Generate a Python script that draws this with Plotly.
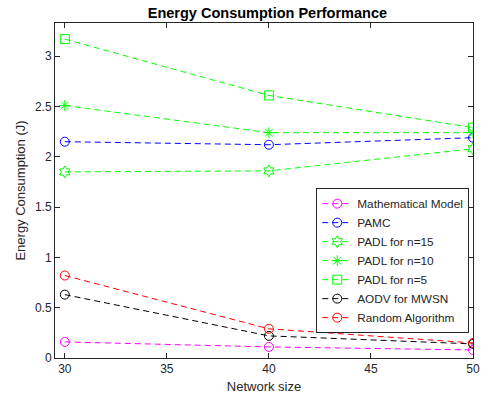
import plotly.graph_objects as go

network_size = [30, 40, 50]
math_model = [0.16, 0.11, 0.08]
pamc = [2.15, 2.12, 2.19]
padl_n15 = [1.85, 1.86, 2.08]
padl_n10 = [2.51, 2.24, 2.24]
padl_n5 = [3.17, 2.61, 2.29]
aodv = [0.63, 0.22, 0.14]
random_alg = [0.82, 0.29, 0.15]

series = [
    ("Mathematical Model", math_model, "#FF00FF", "circle-open"),
    ("PAMC", pamc, "#0000FF", "circle-open"),
    ("PADL for n=15", padl_n15, "#00FF00", "hexagram-open"),
    ("PADL for n=10", padl_n10, "#00FF00", "asterisk-open"),
    ("PADL for n=5", padl_n5, "#00FF00", "square-open"),
    ("AODV for MWSN", aodv, "#000000", "circle-open"),
    ("Random Algorithm", random_alg, "#FF0000", "circle-open"),
]

fig = go.Figure()
for name, vals, color, sym in series:
    fig.add_trace(go.Scatter(
        x=network_size, y=vals, name=name, mode="lines+markers",
        line=dict(color=color, width=1, dash="6px,4px"),
        marker=dict(symbol=sym, size=9, color=color, line=dict(color=color, width=1)),
    ))

font = "Liberation Sans, Arial, Helvetica, sans-serif"
fig.update_layout(
    width=488, height=401,
    margin=dict(l=55, r=8, t=23, b=43),
    paper_bgcolor="white", plot_bgcolor="white",
    font=dict(family=font, size=12, color="#262626"),
    title=dict(text="<b>Energy Consumption Performance</b>", x=0.548, xanchor="center",
               y=0.968, yanchor="middle", font=dict(size=14.5, color="black")),
    showlegend=True,
    legend=dict(x=0.625, y=0.507, xanchor="left", yanchor="top",
                bgcolor="white", bordercolor="#262626", borderwidth=1,
                font=dict(size=11.8, color="#262626"), tracegroupgap=0,
                itemwidth=30),
)
fig.update_xaxes(range=[29.52, 50], tickvals=[30, 35, 40, 45, 50],
                 ticks="inside", ticklen=5, tickcolor="#262626",
                 showline=True, linecolor="#262626", linewidth=1, mirror="ticks",
                 showgrid=False, zeroline=False,
                 title=dict(text="Network size", font=dict(size=13), standoff=6))
fig.update_yaxes(range=[0, 3.33], tickvals=[0, 0.5, 1, 1.5, 2, 2.5, 3],
                 ticktext=["0", "0.5", "1", "1.5", "2", "2.5", "3"],
                 ticks="inside", ticklen=5, tickcolor="#262626",
                 showline=True, linecolor="#262626", linewidth=1, mirror="ticks",
                 showgrid=False, zeroline=False,
                 title=dict(text="Energy Consumption (J)", font=dict(size=13), standoff=6))

fig.write_html("out.html", config={"displayModeBar": False},
               post_script="document.body.style.margin='0px';")
